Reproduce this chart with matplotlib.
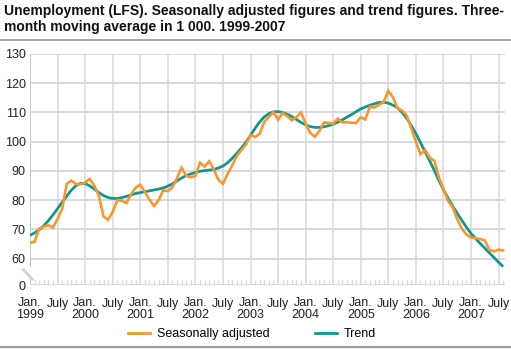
import numpy as np
import matplotlib.pyplot as plt
from matplotlib.lines import Line2D

plt.rcParams['font.family'] = ['Liberation Sans', 'DejaVu Sans']

# Monthly values, Jan 1999 - Aug 2007, in 1 000 persons
seasonally_adjusted = [
    65.4, 65.8, 70.3, 71.0, 71.4, 70.7, 73.6, 77.0, 85.6, 86.7, 85.5, 85.5,        # 1999
    86.0, 87.3, 85.0, 81.5, 74.4, 73.3, 76.0, 80.0, 79.8, 79.0, 82.0, 84.3,        # 2000
    85.3, 82.8, 80.2, 78.0, 80.0, 83.4, 83.1, 84.4, 87.6, 91.1, 88.4, 87.8,        # 2001
    88.3, 92.8, 91.5, 93.3, 90.6, 87.0, 85.6, 88.9, 91.8, 95.1, 97.1, 99.0,        # 2002
    102.3, 101.6, 102.7, 106.8, 108.5, 110.1, 107.5, 109.8, 108.7, 107.3, 108.4, 110.0,  # 2003
    106.2, 103.0, 101.7, 103.7, 106.6, 106.4, 106.2, 107.9, 106.6, 106.7, 106.5, 106.4,  # 2004
    108.4, 107.6, 112.0, 111.7, 112.6, 113.6, 117.4, 115.2, 111.4, 110.7, 109.0, 104.6,  # 2005
    100.0, 95.7, 97.2, 94.6, 93.5, 88.0, 83.8, 79.8, 77.6, 73.5, 70.3, 68.3,       # 2006
    67.2, 67.0, 66.7, 66.3, 63.0, 62.5, 63.1, 62.8,                                # 2007
]
trend = [
    68.0, 68.8, 69.9, 71.3, 73.0, 75.0, 77.1, 79.3, 81.4, 83.4, 85.0, 85.8,
    85.7, 84.9, 83.8, 82.6, 81.6, 80.9, 80.6, 80.6, 80.9, 81.3, 81.8, 82.3,
    82.6, 82.9, 83.2, 83.5, 83.8, 84.2, 84.8, 85.6, 86.6, 87.6, 88.4, 89.0,
    89.5, 89.9, 90.1, 90.3, 90.5, 91.0, 91.7, 92.8, 94.3, 96.0, 97.8, 99.8,
    102.2, 104.6, 106.8, 108.5, 109.6, 110.2, 110.3, 110.0, 109.4, 108.6, 107.6, 106.6,
    105.8, 105.2, 104.9, 104.9, 105.1, 105.5, 106.0, 106.7, 107.5, 108.4, 109.3, 110.3,
    111.2, 111.9, 112.5, 113.0, 113.4, 113.5, 113.2, 112.5, 111.6, 110.0, 108.0, 105.5,
    102.8, 99.7, 96.6, 93.5, 90.2, 86.8, 83.6, 80.7, 78.0, 75.5, 73.1, 70.8,
    68.6, 66.9, 65.2, 63.6, 62.0, 60.4, 58.8, 57.3,
]
years = list(range(1999, 2008))
y_ticks = [60, 70, 80, 90, 100, 110, 120, 130]
zero_pos = 51  # where the "0" baseline sits below the axis break

orange = '#f7972f'
teal = '#13968f'
grid_c = '#d5d7dd'

months = np.arange(len(seasonally_adjusted))

fig = plt.figure(figsize=(5.11, 3.49), dpi=100)
W, H = 511, 349
ax = fig.add_axes([30 / W, 1 - 285 / H, 475 / W, 231 / H])

# x ticks: Jan. / July every half year
major = np.arange(0, len(months), 6)
labels = []
for k in major:
    if k % 12 == 0:
        labels.append('Jan.\n%d' % years[k // 12])
    else:
        labels.append('July')
ax.set_xticks(major)
ax.set_xticklabels(labels, fontsize=9, linespacing=0.95)
ax.set_xticks(months, minor=True)
ax.tick_params(axis='x', which='major', length=0, pad=9, colors='#222222')
ax.tick_params(axis='x', which='minor', direction='in', length=3.5,
               width=0.9, color=grid_c)

ax.set_yticks([zero_pos] + y_ticks)
ax.set_yticklabels(['0'] + [str(v) for v in y_ticks], fontsize=9)
ax.tick_params(axis='y', length=0, pad=3, colors='#222222')

ax.set_xlim(0, 103.4)
ax.set_ylim(zero_pos, 130)

# grid
ax.grid(axis='y', color=grid_c, linewidth=1.3)
for k in major[1:]:
    ax.axvline(k, color=grid_c, linewidth=1.1, zorder=0.5)
for s in ax.spines.values():
    s.set_visible(False)

# left axis line, broken between 60 and the zero line
lo = (57.5 - zero_pos) / (130 - zero_pos)
ax.axvline(0, ymin=lo, ymax=1, color='#c8cad0', linewidth=1.4, zorder=0.6)
ax.axvline(0, ymin=0, ymax=0.035, color='#c8cad0', linewidth=1.4, zorder=0.6)
for dx in (-1.0, 1.0):
    fig.add_artist(Line2D([(23 + dx) / W, (33 + dx) / W],
                          [1 - 269 / H, 1 - 280 / H],
                          color='#c8cad0', linewidth=0.9))

ax.set_axisbelow(True)
ax.plot(months, trend, color=teal, linewidth=2.0, solid_capstyle='butt', zorder=3)
ax.plot(months, seasonally_adjusted, color=orange, linewidth=1.9,
        solid_joinstyle='miter', zorder=4)

# title and rules
fig.text(4 / W, 1 - 4 / H,
         'Unemployment (LFS). Seasonally adjusted figures and trend figures. Three-\n'
         'month moving average in 1 000. 1999-2007',
         fontsize=10, fontweight='bold', va='top', ha='left', linespacing=1.2,
         color='#111111')
fig.add_artist(Line2D([0, 1], [1 - 40 / H, 1 - 40 / H], color='#9a9a9a', linewidth=1.2))
fig.add_artist(Line2D([0, 1], [1 - 347 / H, 1 - 347 / H], color='#9a9a9a', linewidth=1.5))

handles = [Line2D([], [], color=orange, linewidth=2.0),
           Line2D([], [], color=teal, linewidth=2.0)]
fig.legend(handles, ['Seasonally adjusted', 'Trend'], loc='center',
           bbox_to_anchor=(252 / W, 1 - 334 / H), ncol=2, frameon=False,
           fontsize=9, handlelength=1.75, handletextpad=0.6, columnspacing=3.6,
           borderpad=0, borderaxespad=0)

fig.savefig('out.png', dpi=100)
